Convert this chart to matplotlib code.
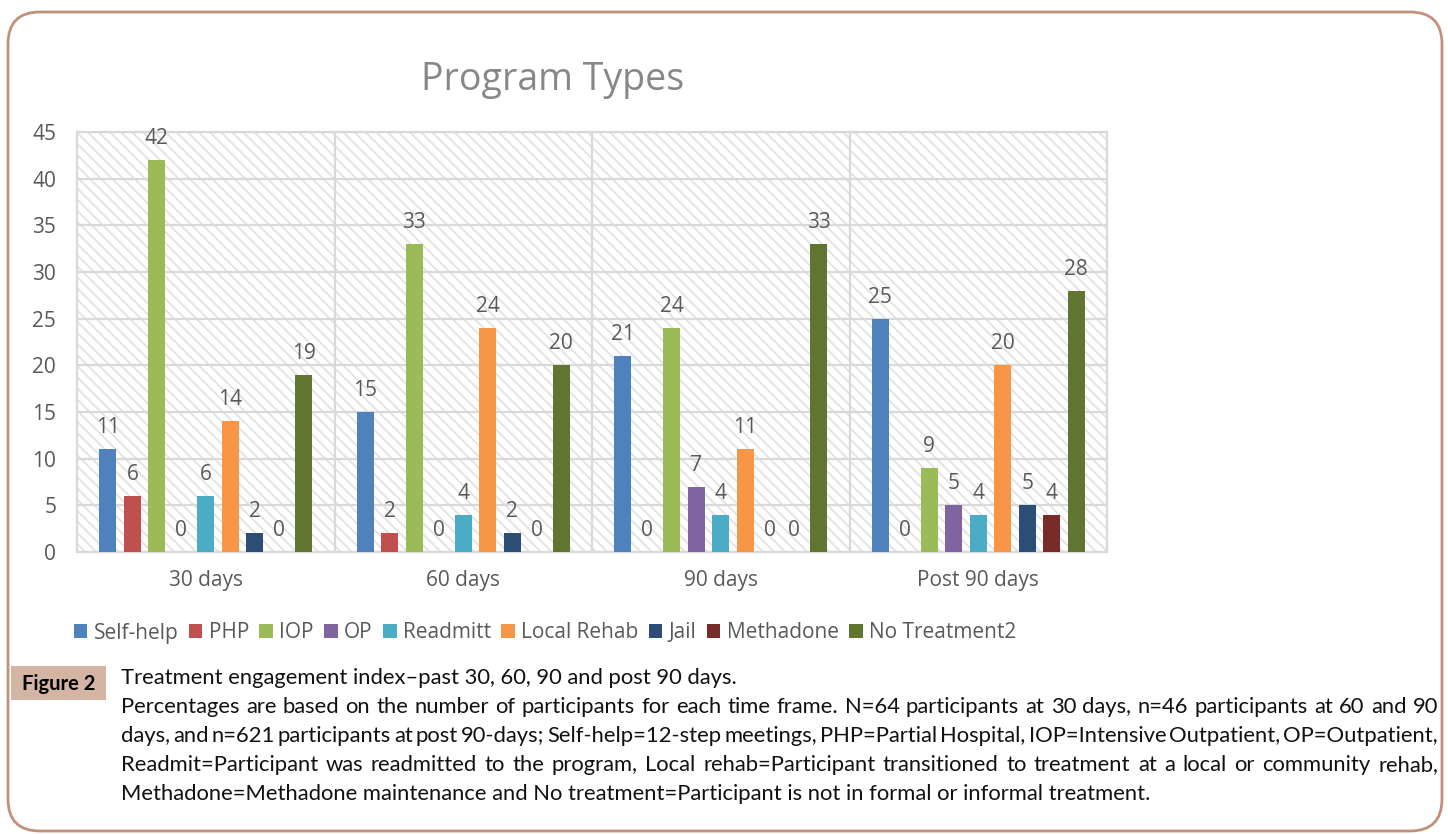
import matplotlib
matplotlib.use("Agg")
import matplotlib.pyplot as plt
import numpy as np
from matplotlib.patches import FancyBboxPatch, Rectangle, Patch
from matplotlib.transforms import IdentityTransform

# data
categories = ['30 days', '60 days', '90 days', 'Post 90 days']
series_names = ['Self-help', 'PHP', 'IOP', 'OP', 'Readmitt', 'Local Rehab',
                'Jail', 'Methadone', 'No Treatment2']
self_help = [11, 15, 21, 25]
php = [6, 2, 0, 0]
iop = [42, 33, 24, 9]
op = [0, 0, 7, 5]
readmitt = [6, 4, 4, 4]
local_rehab = [14, 24, 11, 20]
jail = [2, 2, 0, 5]
methadone = [0, 0, 0, 4]
no_treatment = [19, 20, 33, 28]
colors = ['#4f81bd', '#c0504d', '#9bbb59', '#8064a2', '#4bacc6',
          '#f79646', '#2c4d75', '#772c2a', '#5f7530']

caption_lines = [
    "Treatment engagement index\u2013past 30, 60, 90 and post 90 days.",
    "Percentages are based on the number of participants for each time frame. N=64 participants at 30 days, n=46 participants at 60 and 90",
    "days, and n=621 participants at post 90-days; Self-help=12-step meetings, PHP=Partial Hospital, IOP=Intensive Outpatient, OP=Outpatient,",
    "Readmit=Participant was readmitted to the program, Local rehab=Participant transitioned to treatment at a local or community rehab,",
    "Methadone=Methadone maintenance and No treatment=Participant is not in formal or informal treatment.",
]
justified = [False, True, True, True, False]

plt.rcParams['font.family'] = ['Open Sans', 'DejaVu Sans']
plt.rcParams['hatch.linewidth'] = 1.3

W, H = 1448, 834
fig = plt.figure(figsize=(W / 100, H / 100), dpi=100)

def fx(x):
    return x / W

def fy(y):
    return 1 - y / H

# outer rounded frame
frame = FancyBboxPatch((8, 3), 1434, 819, boxstyle='round,pad=0,rounding_size=32',
                       transform=IdentityTransform(), facecolor='white',
                       edgecolor='#c3917a', lw=2, zorder=0)
fig.add_artist(frame)

ax = fig.add_axes([fx(77), fy(552), 1030 / W, 420 / H])
ax.patch.set_alpha(0)
ax.add_patch(Rectangle((0, 0), 1, 1, transform=ax.transAxes, facecolor='white',
                       edgecolor='#e2e2e2', lw=0, hatch='\\\\\\', zorder=0.1))

all_series = [self_help, php, iop, op, readmitt, local_rehab, jail, methadone, no_treatment]
x = np.arange(len(categories))
step = 0.095
width = 0.066
for i, vals in enumerate(all_series):
    bars = ax.bar(x + (i - 4) * step, vals, width, color=colors[i], zorder=3,
                  label=series_names[i])
    ax.bar_label(bars, padding=8, fontsize=15, color='#595959')

ax.set_xlim(-0.5, 3.5)
ax.set_ylim(0, 45)
ax.set_yticks(range(0, 46, 5))
ax.set_xticks(x)
ax.set_xticklabels(categories)
ax.set_xticks([0.5, 1.5, 2.5], minor=True)
ax.set_axisbelow(True)
ax.grid(axis='y', color='#d9d9d9', lw=1.6, zorder=0.5)
ax.grid(axis='x', which='minor', color='#d9d9d9', lw=1.6, zorder=0.5)
ax.tick_params(which='both', length=0)
ax.tick_params(axis='y', pad=15, labelsize=15, labelcolor='#595959')
ax.tick_params(axis='x', pad=13, labelsize=15, labelcolor='#595959')
for s in ax.spines.values():
    s.set_color('#d9d9d9')
    s.set_linewidth(1.6)

fig.text(fx(553), fy(90), 'Program Types', ha='center', va='baseline',
         fontsize=27, color='#878787')

handles = [Patch(facecolor=c) for c in colors]
fig.legend(handles, series_names, loc='center', bbox_to_anchor=(fx(545), fy(633)),
           ncol=9, frameon=False, handlelength=0.65, handleheight=0.65,
           handletextpad=0.3, columnspacing=0.5, fontsize=15, labelcolor='#595959')

# caption block
fig.add_artist(Rectangle((11, H - 700), 95, 34, transform=IdentityTransform(),
                         facecolor='#d4b4a3', edgecolor='none'))
fig.text(fx(58.5), fy(684), 'Figure 2', ha='center', va='center',
         fontsize=14.5, fontweight='bold', family='Lato', color='black')

renderer = fig.canvas.get_renderer()
cap_kw = dict(fontsize=15.8, family='Lato', color='#111111', va='center')
x0, x1 = 121, 1438
for k, line in enumerate(caption_lines):
    y = 678 + k * 29
    if not justified[k]:
        fig.text(fx(x0), fy(y), line, **cap_kw)
        continue
    words = line.split(' ')
    widths = []
    for w in words:
        t = fig.text(0, 0, w, **cap_kw)
        widths.append(t.get_window_extent(renderer).width)
        t.remove()
    gap = (x1 - x0 - sum(widths)) / (len(words) - 1)
    xx = x0
    for w, wd in zip(words, widths):
        fig.text(fx(xx), fy(y), w, **cap_kw)
        xx += wd + gap

fig.savefig('out.png', dpi=100)
